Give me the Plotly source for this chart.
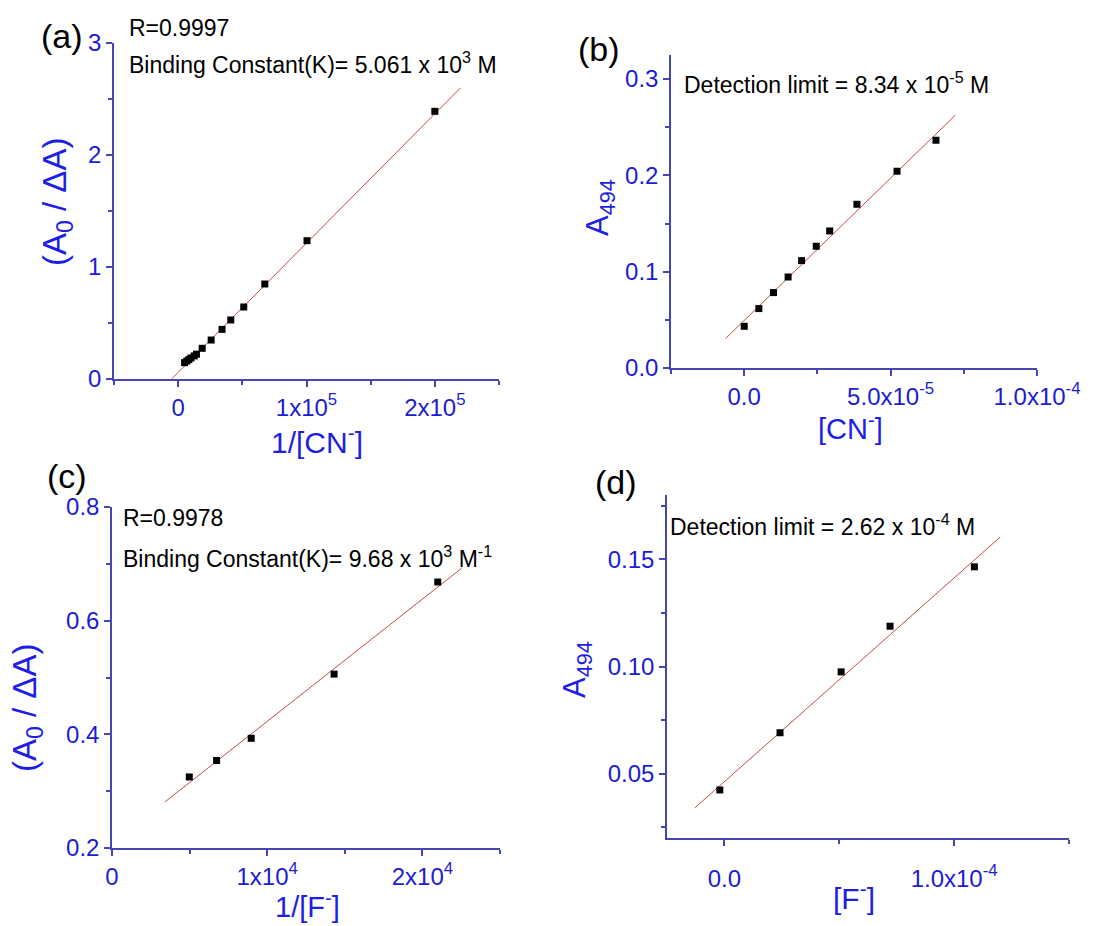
import plotly.graph_objects as go

# ---- data -------------------------------------------------------------
# (a) Benesi-Hildebrand plot for CN-
a_x = [5000, 6700, 8300, 10000, 12500, 14300, 18700, 25700, 34200, 41000, 51100, 67500, 100400, 200000]
a_y = [0.146, 0.160, 0.173, 0.188, 0.206, 0.222, 0.274, 0.348, 0.443, 0.527, 0.643, 0.848, 1.235, 2.39]
a_fit = dict(slope=1.155e-5, intercept=0.0585, x=[-4900, 220000])

# (b) absorbance at 494 nm vs [CN-]
b_x = [0.0, 0.5e-5, 1.0e-5, 1.5e-5, 1.96e-5, 2.46e-5, 2.92e-5, 3.85e-5, 5.22e-5, 6.55e-5]
b_y = [0.0433, 0.0617, 0.0783, 0.0945, 0.1115, 0.1264, 0.1423, 0.170, 0.2043, 0.2365]
b_fit = dict(slope=2955.0, intercept=0.0494, x=[-0.64e-5, 7.21e-5])

# (c) Benesi-Hildebrand plot for F-
c_x = [4980, 6740, 8970, 14310, 20990]
c_y = [0.325, 0.354, 0.393, 0.506, 0.668]
c_fit = dict(slope=2.151e-5, intercept=0.2077, x=[3410, 22520])

# (d) absorbance at 494 nm vs [F-]
d_x = [-0.2e-5, 2.42e-5, 5.08e-5, 7.21e-5, 10.88e-5]
d_y = [0.0424, 0.0691, 0.0975, 0.1188, 0.1465]
d_fit = dict(slope=950.3, intercept=0.0463, x=[-1.29e-5, 1.20e-4])

# tick labels
a_xtickvals = [0, 1e5, 2e5]
a_xticktext = ["0", "1x10<sup>5</sup>", "2x10<sup>5</sup>"]
a_ytickvals = [0, 1, 2, 3]
b_xtickvals = [0, 5e-5, 1e-4]
b_xticktext = ["0.0", "5.0x10<sup>-5</sup>", "1.0x10<sup>-4</sup>"]
b_ytickvals = [0.0, 0.1, 0.2, 0.3]
b_yticktext = ["0.0", "0.1", "0.2", "0.3"]
c_xtickvals = [0, 1e4, 2e4]
c_xticktext = ["0", "1x10<sup>4</sup>", "2x10<sup>4</sup>"]
c_ytickvals = [0.2, 0.4, 0.6, 0.8]
c_yticktext = ["0.2", "0.4", "0.6", "0.8"]
d_xtickvals = [0, 1e-4]
d_xticktext = ["0.0", "1.0x10<sup>-4</sup>"]
d_ytickvals = [0.05, 0.10, 0.15]
d_yticktext = ["0.05", "0.10", "0.15"]

# ---- styling ----------------------------------------------------------
W, H = 1104, 926
FONT = "Liberation Sans, Arial, sans-serif"
AXIS_COLOR = "#4545b5"
TICK_COLOR = "#1c1cd2"
TITLE_COLOR = "#1e1ee6"
FIT_COLOR = "#c84848"


def px(x):
    return x / W


def py(y):
    return 1 - y / H


fig = go.Figure()

panels = [
    ("", a_x, a_y, a_fit),
    ("2", b_x, b_y, b_fit),
    ("3", c_x, c_y, c_fit),
    ("4", d_x, d_y, d_fit),
]
for suf, xs, ys, fit in panels:
    fx = fit["x"]
    fy = [fit["slope"] * v + fit["intercept"] for v in fx]
    fig.add_trace(go.Scatter(x=fx, y=fy, mode="lines",
                             line=dict(color=FIT_COLOR, width=1),
                             xaxis="x" + suf, yaxis="y" + suf,
                             showlegend=False, hoverinfo="skip"))
    fig.add_trace(go.Scatter(x=xs, y=ys, mode="markers",
                             marker=dict(symbol="square", size=7, color="black"),
                             xaxis="x" + suf, yaxis="y" + suf,
                             showlegend=False))


def axis(domain, rng, anchor, tickvals, ticktext=None, minor_dtick=None,
         minor_tick0=0, standoff=None):
    d = dict(domain=domain, range=rng, anchor=anchor, automargin=False,
             showline=True, linecolor=AXIS_COLOR, linewidth=1.5,
             ticks="outside", ticklen=6, tickwidth=1.5, tickcolor=AXIS_COLOR,
             showgrid=False, zeroline=False, mirror=False,
             tickvals=tickvals,
             tickfont=dict(family=FONT, size=24, color=TICK_COLOR))
    if ticktext is not None:
        d["ticktext"] = ticktext
    if minor_dtick is not None:
        d["minor"] = dict(ticks="outside", ticklen=4, tickwidth=1.5,
                          tickcolor=AXIS_COLOR, dtick=minor_dtick,
                          tick0=minor_tick0, showgrid=False)
    if standoff is not None:
        d["ticklabelstandoff"] = standoff
    return d


layout = dict(
    width=W, height=H,
    margin=dict(l=0, r=0, t=0, b=0, autoexpand=False),
    paper_bgcolor="white", plot_bgcolor="white",
    font=dict(family=FONT),
    showlegend=False,
    # (a)
    xaxis=axis([px(114), px(499)], [-0.5e5, 2.5e5], "y",
               a_xtickvals, a_xticktext, 0.5e5),
    yaxis=axis([py(379), py(43)], [0, 3], "x",
               a_ytickvals, None, 0.5),
    # (b)
    xaxis2=axis([px(671), px(1037)], [-2.5e-5, 1.0e-4], "y2",
                b_xtickvals, b_xticktext, 2.5e-5),
    yaxis2=axis([py(368), py(55)], [0, 0.325], "x2",
                b_ytickvals, b_yticktext, 0.05),
    # (c)
    xaxis3=axis([px(112), px(500)], [0, 2.5e4], "y3",
                c_xtickvals, c_xticktext, 0.5e4),
    yaxis3=axis([py(848), py(507)], [0.2, 0.8], "x3",
                c_ytickvals, c_yticktext, 0.1),
    # (d)
    xaxis4=axis([px(667), px(1069)], [-2.5e-5, 1.5e-4], "y4",
                d_xtickvals, d_xticktext, 5e-5, standoff=12),
    yaxis4=axis([py(838), py(495)], [0.02, 0.18], "x4",
                d_ytickvals, d_yticktext, 0.025, minor_tick0=0.025),
)
fig.update_layout(**layout)


def note(x, y, text, size=23, color="black", xanchor="left", angle=0):
    fig.add_annotation(x=px(x), y=py(y), xref="paper", yref="paper",
                       text=text, showarrow=False, xanchor=xanchor,
                       yanchor="middle", textangle=angle,
                       font=dict(family=FONT, size=size, color=color))


# panel letters
note(62, 36, "(a)", size=34, xanchor="center")
note(599, 49, "(b)", size=34, xanchor="center")
note(67, 476, "(c)", size=34, xanchor="center")
note(616, 482, "(d)", size=34, xanchor="center")

# fit statistics
note(127, 28, "R=0.9997")
note(127, 63, "Binding Constant(K)= 5.061 x 10<sup>3</sup> M")
note(682, 83, "Detection limit = 8.34 x 10<sup>-5</sup> M")
note(121, 518, "R=0.9978")
note(121, 557, "Binding Constant(K)= 9.68 x 10<sup>3</sup> M<sup>-1</sup>")
note(668, 525, "Detection limit = 2.62 x 10<sup>-4</sup> M")

# axis titles
note(57, 202, "(A<sub>0</sub> / ΔA)", size=33, color=TITLE_COLOR,
     xanchor="center", angle=-90)
note(317, 440, "1/[CN<sup>-</sup>]", size=30, color=TITLE_COLOR, xanchor="center")
note(600, 208, "A<sub>494</sub>", size=31, color=TITLE_COLOR,
     xanchor="center", angle=-90)
note(850, 427, "[CN<sup>-</sup>]", size=29, color=TITLE_COLOR, xanchor="center")
note(27, 708, "(A<sub>0</sub> / ΔA)", size=33, color=TITLE_COLOR,
     xanchor="center", angle=-90)
note(307, 905, "1/[F<sup>-</sup>]", size=29, color=TITLE_COLOR, xanchor="center")
note(577, 670, "A<sub>494</sub>", size=31, color=TITLE_COLOR,
     xanchor="center", angle=-90)
note(854, 896, "[F<sup>-</sup>]", size=30, color=TITLE_COLOR, xanchor="center")

fig.write_html("out.html")
